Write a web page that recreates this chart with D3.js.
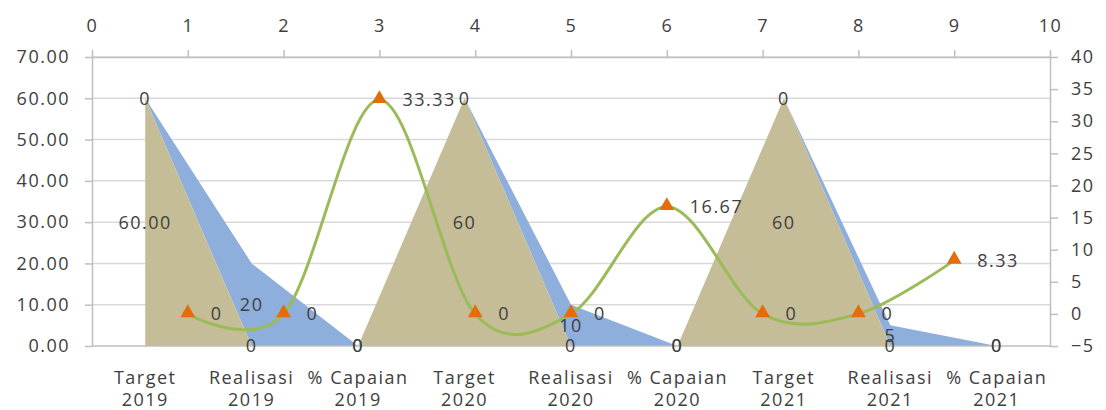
<!DOCTYPE html>
<html>
<head>
<meta charset="utf-8">
<script src="https://cdn.jsdelivr.net/npm/d3@7"></script>
<style>
  html, body { margin: 0; padding: 0; background: #ffffff; }
  svg { display: block; }
  text { font-family: "Open Sans", "DejaVu Sans", sans-serif; font-size: 18px; fill: #404040; letter-spacing: 1.5px; }
</style>
</head>
<body>
<svg id="chart" width="1106" height="410"></svg>
<script>
// ---------- data ----------
const categories = ["Target 2019", "Realisasi 2019", "% Capaian 2019",
                    "Target 2020", "Realisasi 2020", "% Capaian 2020",
                    "Target 2021", "Realisasi 2021", "% Capaian 2021"];
const areaTarget = [60, 0, 0, 60, 0, 0, 60, 0, 0];          // tan, bottom of stack
const areaRealisasi = [0, 20, 0, 0, 10, 0, 0, 5, 0];        // blue, stacked on top
const areaTargetLabels = ["60.00", "0", "0", "60", "0", "0", "60", "0", "0"];
const areaRealisasiLabels = ["0", "20", "0", "0", "10", "0", "0", "5", "0"];
const lineX = [1, 2, 3, 4, 5, 6, 7, 8, 9];
const lineY = [0, 0, 33.33, 0, 0, 16.67, 0, 0, 8.33];
const lineLabels = ["0", "0", "33.33", "0", "0", "16.67", "0", "0", "8.33"];
const leftTicks = [0, 10, 20, 30, 40, 50, 60, 70];
const rightTicks = [-5, 0, 5, 10, 15, 20, 25, 30, 35, 40];
const topTicks = [0, 1, 2, 3, 4, 5, 6, 7, 8, 9, 10];

// ---------- layout ----------
const L = 92, R = 1050, T = 57, B = 346;
const svg = d3.select("#chart");

const xCat = d3.scalePoint().domain(categories).range([L, R]).padding(0.5);
const yLeft = d3.scaleLinear().domain([0, 70]).range([B, T]);
const yRight = d3.scaleLinear().domain([-5, 40]).range([B, T]);
const xTop = d3.scaleLinear().domain([0, 10]).range([L, R]);

const axisColor = "#bfbfbf", gridColor = "#d9d9d9";

// gridlines
svg.append("g").selectAll("line").data(leftTicks.filter(d => d > 0)).join("line")
  .attr("x1", L).attr("x2", R)
  .attr("y1", d => yLeft(d)).attr("y2", d => yLeft(d))
  .attr("stroke", gridColor).attr("stroke-width", 1.5);

// stacked areas
const rows = categories.map((c, i) => ({ cat: c, target: areaTarget[i], realisasi: areaRealisasi[i] }));
const stack = d3.stack().keys(["target", "realisasi"]);
const layers = stack(rows);
const areaColors = { target: "#c4bd97", realisasi: "#8eaedb" };
const area = d3.area()
  .x(d => xCat(d.data.cat))
  .y0(d => yLeft(d[0]))
  .y1(d => yLeft(d[1]));
svg.append("g").selectAll("path").data(layers.slice().reverse()).join("path")
  .attr("d", area)
  .attr("fill", d => areaColors[d.key]);

// axes
function styleAxis(g) {
  g.selectAll(".domain").attr("stroke", axisColor).attr("stroke-width", 1.5);
  g.selectAll(".tick line").attr("stroke", axisColor).attr("stroke-width", 1.5);
  g.selectAll("text").attr("fill", "#404040").style("font-size", "18px")
    .style("font-family", '"Open Sans", "DejaVu Sans", sans-serif');
}
svg.append("g").attr("transform", `translate(${L},0)`)
  .call(d3.axisLeft(yLeft).tickValues(leftTicks).tickFormat(d3.format(".2f"))
        .tickSize(7).tickSizeOuter(0).tickPadding(15))
  .call(styleAxis);
svg.append("g").attr("transform", `translate(${R},0)`)
  .call(d3.axisRight(yRight).tickValues(rightTicks).tickFormat(d3.format("d"))
        .tickSize(8).tickSizeOuter(0).tickPadding(13))
  .call(styleAxis);
svg.append("g").attr("transform", `translate(0,${T})`)
  .call(d3.axisTop(xTop).tickValues(topTicks).tickFormat(d3.format("d"))
        .tickSize(7).tickSizeOuter(0).tickPadding(18))
  .call(styleAxis);
// bottom category axis (line + two-line labels)
svg.append("line").attr("x1", L).attr("x2", R).attr("y1", B).attr("y2", B)
  .attr("stroke", axisColor).attr("stroke-width", 1.5);
const catLabels = svg.append("g").selectAll("text").data(categories).join("text")
  .attr("x", d => xCat(d)).attr("text-anchor", "middle");
catLabels.append("tspan").attr("x", d => xCat(d)).attr("y", 384)
  .text(d => d.slice(0, d.lastIndexOf(" ")));
catLabels.append("tspan").attr("x", d => xCat(d)).attr("y", 406)
  .text(d => d.slice(d.lastIndexOf(" ") + 1));

// smooth line (secondary axes)
const pts = lineX.map((x, i) => ({ x, y: lineY[i], label: lineLabels[i] }));
svg.append("path").datum(pts)
  .attr("d", d3.line().x(d => xTop(d.x)).y(d => yRight(d.y)).curve(d3.curveCardinal.tension(0)))
  .attr("fill", "none").attr("stroke", "#9bbb59").attr("stroke-width", 3);
svg.append("g").selectAll("path").data(pts).join("path")
  .attr("d", d3.symbol(d3.symbolTriangle, 95))
  .attr("transform", d => `translate(${xTop(d.x)},${yRight(d.y) - 1})`)
  .attr("fill", "#e46c0a");

// area data labels (center of each stacked band)
layers.forEach(layer => {
  const labels = layer.key === "target" ? areaTargetLabels : areaRealisasiLabels;
  svg.append("g").selectAll("text").data(layer).join("text")
    .attr("x", d => xCat(d.data.cat))
    .attr("y", d => yLeft((d[0] + d[1]) / 2))
    .attr("dy", "0.36em").attr("text-anchor", "middle")
    .text((d, i) => labels[i]);
});

// line data labels (right of markers)
svg.append("g").selectAll("text").data(pts).join("text")
  .attr("x", d => xTop(d.x) + 23)
  .attr("y", d => yRight(d.y))
  .attr("dy", "0.36em").attr("text-anchor", "start")
  .text(d => d.label);
</script>
</body>
</html>
